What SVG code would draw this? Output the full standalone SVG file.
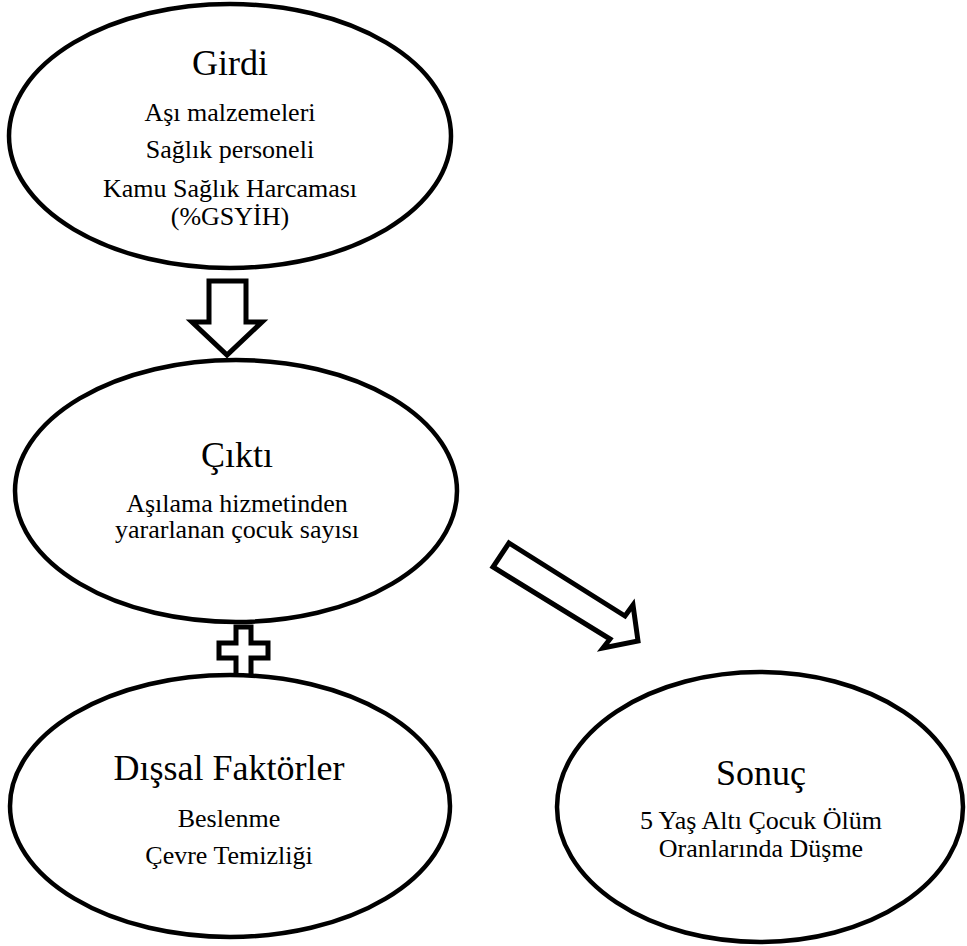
<svg xmlns="http://www.w3.org/2000/svg" width="967" height="946" viewBox="0 0 967 946">
<style>
.node ellipse{fill:#fff;stroke:#000;stroke-width:4.5}
text{font-family:"Liberation Serif","Times New Roman",Tinos,"DejaVu Serif",serif;text-anchor:middle;fill:#000}
.h{font-size:36px}
.b{font-size:26px}
.conn{fill:#fff;stroke:#000;stroke-width:5;stroke-linejoin:miter}
</style>
<rect width="967" height="946" fill="#fff"/>
<g id="connectors">
<path class="conn" d="M209,281 H246 V322 H262 L227,355 L192,322 H209 Z"/>
<path class="conn" d="M509,543 L625,616 L633,605 L638,641 L603,648 L610,639 L493,567 Z"/>
<path class="conn" d="M236,627 H251 V643 H268 V658 H251 V680 H236 V658 H219 V643 H236 Z"/>
</g>
<g id="girdi" class="node">
<ellipse cx="230" cy="136" rx="221" ry="132"/>
<text class="h" x="230" y="75">Girdi</text>
<text class="b" x="230" y="121">Aşı malzemeleri</text>
<text class="b" x="230" y="158">Sağlık personeli</text>
<text class="b" x="230" y="197">Kamu Sağlık Harcaması</text>
<text class="b" x="230" y="225">(%GSYİH)</text>
</g>
<g id="cikti" class="node">
<ellipse cx="236" cy="491" rx="221" ry="131"/>
<text class="h" x="237" y="467">Çıktı</text>
<text class="b" x="237" y="512">Aşılama hizmetinden</text>
<text class="b" x="237" y="538">yararlanan çocuk sayısı</text>
</g>
<g id="dissal" class="node">
<ellipse cx="230" cy="806" rx="220" ry="131"/>
<text class="h" x="229" y="780">Dışsal Faktörler</text>
<text class="b" x="229" y="827">Beslenme</text>
<text class="b" x="229" y="864">Çevre Temizliği</text>
</g>
<g id="sonuc" class="node">
<ellipse cx="760" cy="807" rx="203" ry="135"/>
<text class="h" x="761" y="785">Sonuç</text>
<text class="b" x="761" y="829">5 Yaş Altı Çocuk Ölüm</text>
<text class="b" x="761" y="857">Oranlarında Düşme</text>
</g>
</svg>
